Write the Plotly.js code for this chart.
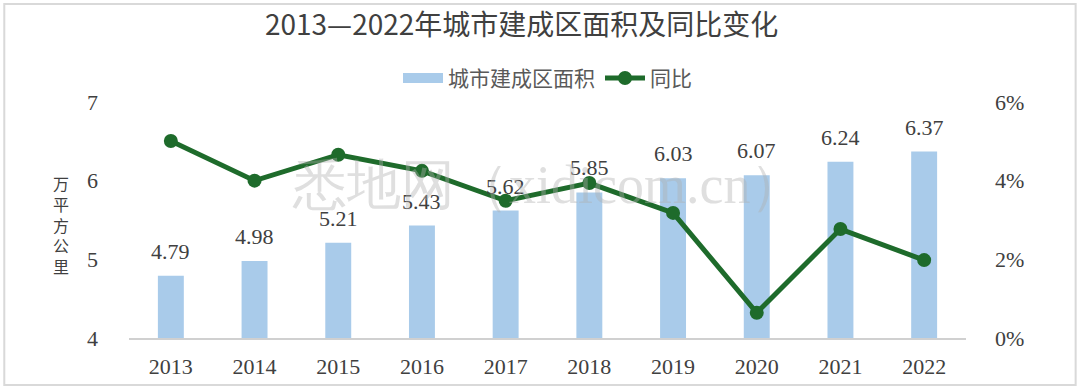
<!DOCTYPE html>
<html><head><meta charset="utf-8">
<script src="https://cdn.plot.ly/plotly-3.0.1.min.js"></script>
<style>html,body{margin:0;padding:0;background:#fff;}#chart{width:1080px;height:389px;}</style>
</head><body><div id="chart"></div>
<script>
const years = ['2013','2014','2015','2016','2017','2018','2019','2020','2021','2022'];
const area = [4.79, 4.98, 5.21, 5.43, 5.62, 5.85, 6.03, 6.07, 6.24, 6.37];
const yoy = [0.0501, 0.0400, 0.0466, 0.0425, 0.0349, 0.0394, 0.0318, 0.0064, 0.0277, 0.0198];
const areaLabels = ['4.79','4.98','5.21','5.43','5.62','5.85','6.03','6.07','6.24','6.37'];
const leftTicks = [4, 5, 6, 7];
const rightTicks = [0, 0.02, 0.04, 0.06];
const rightTickText = ['0%', '2%', '4%', '6%'];

const serif = '"Liberation Serif", "Times New Roman", serif';
const cjk = '"Noto Sans CJK SC", "Noto Sans", sans-serif';
const barColor = '#a9cbea';
const lineColor = '#1e6b2b';

const traces = [
  {
    type: 'bar', name: '城市建成区面积', x: years, y: area, showlegend: false,
    marker: {color: barColor}, yaxis: 'y', hoverinfo: 'skip'
  },
  {
    // legend swatch only (wide bar-coloured band like the reference legend)
    type: 'scatter', mode: 'lines', name: '城市建成区面积', x: years, y: years.map(() => null),
    line: {color: barColor, width: 13}, yaxis: 'y', showlegend: true, hoverinfo: 'skip'
  },
  {
    type: 'scatter', mode: 'lines+markers', name: '同比', x: years, y: yoy,
    line: {color: lineColor, width: 5}, marker: {color: lineColor, size: 14},
    yaxis: 'y2', cliponaxis: false
  }
];

// value labels above bars (category index = position on the category axis)
const labelAnns = years.map((yr, i) => ({
  x: i, y: area[i], xref: 'x', yref: 'y', text: areaLabels[i],
  showarrow: false, xanchor: 'center', yanchor: 'bottom', yshift: 10,
  font: {family: serif, size: 22, color: '#404040'}
}));

const layout = {
  width: 1080, height: 389,
  margin: {l: 129, r: 114, t: 102, b: 51},
  paper_bgcolor: '#fff', plot_bgcolor: '#fff',
  title: {text: '2013—2022年城市建成区面积及同比变化', x: 0.483, xanchor: 'center', y: 0.935, yanchor: 'middle',
          font: {family: cjk, size: 28, color: '#404040'}},
  showlegend: true,
  legend: {orientation: 'h', x: 0.5, xanchor: 'center', y: 1.10, yanchor: 'middle',
           font: {family: cjk, size: 21, color: '#595959'}, itemwidth: 40, traceorder: 'normal'},
  bargap: 0.69,
  xaxis: {type: 'category', categoryorder: 'array', categoryarray: years, range: [-0.5, years.length - 0.5],
          showgrid: false, showline: true, linecolor: '#d0d0d0', linewidth: 1.5,
          ticks: '', tickfont: {family: serif, size: 22, color: '#404040'}, ticklabelstandoff: 8},
  yaxis: {range: [4, 7], tickvals: leftTicks, showgrid: false, zeroline: false, showline: false,
          ticks: '', tickfont: {family: serif, size: 22, color: '#404040'}, ticklabelstandoff: 30},
  yaxis2: {range: [0, 0.06], tickvals: rightTicks, ticktext: rightTickText, overlaying: 'y', side: 'right',
           showgrid: false, zeroline: false, showline: false, ticks: '',
           tickfont: {family: serif, size: 22, color: '#404040'}, ticklabelstandoff: 28},
  annotations: labelAnns.concat([
    {text: '万<br>平<br>方<br>公<br>里', xref: 'paper', yref: 'paper', x: -0.081, y: 0.48,
     xanchor: 'center', yanchor: 'middle', showarrow: false,
     font: {family: cjk, size: 16, color: '#404040'}},
    {text: '悉地网（xidicom.cn）', xref: 'paper', yref: 'paper', x: 0.5, y: 0.65,
     xanchor: 'center', yanchor: 'middle', showarrow: false,
     font: {family: serif, size: 54, color: 'rgba(175,175,175,0.4)'}}
  ]),
  shapes: [
    {type: 'rect', xref: 'paper', yref: 'paper', x0: -0.149, x1: 1.131, y0: -0.199, y1: 1.415,
     line: {color: '#d9d9d9', width: 2}, fillcolor: 'rgba(0,0,0,0)', layer: 'below'}
  ]
};

Plotly.newPlot('chart', traces, layout, {staticPlot: true, displayModeBar: false});
</script></body></html>
